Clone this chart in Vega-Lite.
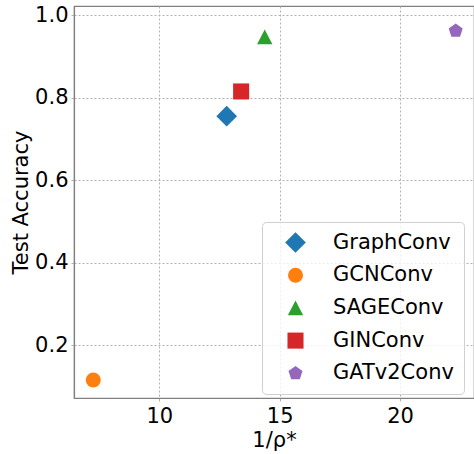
{
  "$schema": "https://vega.github.io/schema/vega-lite/v6.json",
  "autosize": {"type": "none"},
  "width": 400,
  "height": 392,
  "padding": {"left": 74, "top": 6, "right": 0, "bottom": 56},
  "config": {
    "font": "DejaVu Sans",
    "view": {"stroke": "#808080", "strokeWidth": 1.2},
    "axis": {
      "labelFont": "DejaVu Sans",
      "titleFont": "DejaVu Sans",
      "labelFontSize": 21,
      "titleFontSize": 21,
      "labelColor": "#000",
      "titleColor": "#000",
      "titleFontWeight": "normal",
      "domainColor": "#808080",
      "domainWidth": 1.2,
      "ticks": true,
      "tickSize": 3,
      "tickColor": "#b0b0b0",
      "gridColor": "#b0b0b0",
      "gridDash": [2, 2],
      "gridWidth": 1
    }
  },
  "data": {
    "values": [
      {"model": "GraphConv", "inv_rho": 12.80, "acc": 0.755},
      {"model": "GCNConv", "inv_rho": 7.26, "acc": 0.116},
      {"model": "SAGEConv", "inv_rho": 14.38, "acc": 0.947},
      {"model": "GINConv", "inv_rho": 13.40, "acc": 0.815},
      {"model": "GATv2Conv", "inv_rho": 22.31, "acc": 0.962}
    ]
  },
  "mark": {"type": "point", "filled": true, "opacity": 1, "size": 225},
  "encoding": {
    "x": {
      "field": "inv_rho",
      "type": "quantitative",
      "title": "1/ρ*",
      "scale": {"domain": [6.46, 23.07], "nice": false, "zero": false},
      "axis": {"values": [10, 15, 20], "labelPadding": 4, "titlePadding": 3}
    },
    "y": {
      "field": "acc",
      "type": "quantitative",
      "title": "Test Accuracy",
      "scale": {"domain": [0.0724, 1.022], "nice": false, "zero": false},
      "axis": {"values": [0.2, 0.4, 0.6, 0.8, 1.0], "format": ".1f", "labelPadding": 3, "titlePadding": 3}
    },
    "color": {
      "field": "model",
      "type": "nominal",
      "scale": {
        "domain": ["GraphConv", "GCNConv", "SAGEConv", "GINConv", "GATv2Conv"],
        "range": ["#1f77b4", "#ff7f0e", "#2ca02c", "#d62728", "#9467bd"]
      },
      "legend": {
        "title": null,
        "orient": "none",
        "legendX": 188,
        "legendY": 216,
        "padding": 10,
        "symbolOffset": 13,
        "symbolSize": 225,
        "labelOffset": 27,
        "labelFontSize": 21,
        "labelFont": "DejaVu Sans",
        "labelColor": "#000",
        "rowPadding": 10.7,
        "fillColor": "rgba(255,255,255,0.8)",
        "strokeColor": "#d0d0d0",
        "cornerRadius": 4,
        "symbolOpacity": 1
      }
    },
    "shape": {
      "field": "model",
      "type": "nominal",
      "scale": {
        "domain": ["GraphConv", "GCNConv", "SAGEConv", "GINConv", "GATv2Conv"],
        "range": [
          "M-1.38,0L0,-1.38L1.38,0L0,1.38Z",
          "circle",
          "M0,-0.98L1.02,0.98L-1.02,0.98Z",
          "M-1.07,-1.07L1.07,-1.07L1.07,1.07L-1.07,1.07Z",
          "M0,-0.98L0.932,-0.303L0.576,0.793L-0.576,0.793L-0.932,-0.303Z"
        ]
      },
      "legend": null
    }
  }
}
